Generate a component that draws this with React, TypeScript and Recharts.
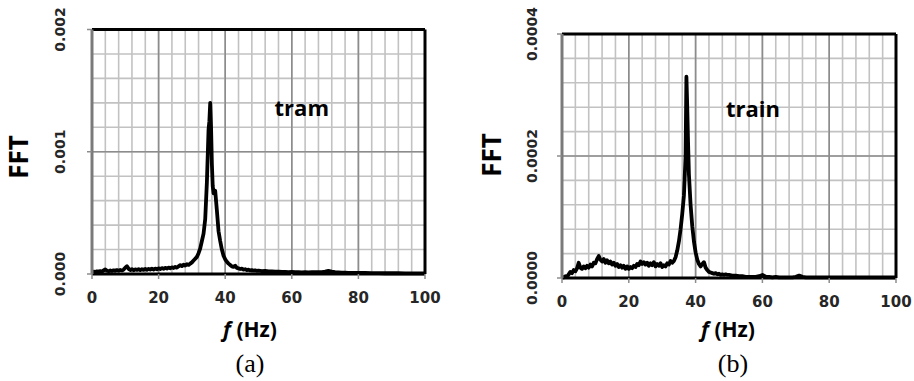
import { CartesianGrid, Line, LineChart, ReferenceDot, ReferenceLine, XAxis, YAxis } from "recharts";

// FFT magnitudes are stored in units of 1e-5, as [frequency Hz, value]
const tramSpectrum: [number, number][] = [
  [0, 1.2], [0.5, 2.0], [1, 1.6], [1.5, 2.2], [2, 1.8], [2.5, 2.4], [3, 2.0], [3.5, 2.9], [4, 3.8], [4.5, 2.7],
  [5, 2.3], [5.5, 2.9], [6, 2.4], [6.5, 3.0], [7, 2.6], [7.5, 3.2], [8, 2.7], [8.5, 3.3], [9, 2.9], [9.5, 3.6],
  [10, 5.2], [10.5, 6.4], [11, 4.2], [11.5, 3.2], [12, 3.9], [12.5, 3.1], [13, 3.8], [13.5, 3.3], [14, 4.0], [14.5, 3.2],
  [15, 3.9], [15.5, 3.4], [16, 4.1], [16.5, 3.5], [17, 4.2], [17.5, 3.6], [18, 4.3], [18.5, 3.7], [19, 4.4], [19.5, 3.9],
  [20, 4.6], [20.5, 4.1], [21, 4.8], [21.5, 4.3], [22, 5.0], [22.5, 4.5], [23, 5.2], [23.5, 4.7], [24, 5.4], [24.5, 4.9],
  [25, 5.8], [25.5, 5.2], [26, 6.3], [26.5, 7.2], [27, 6.4], [27.5, 7.6], [28, 6.9], [28.5, 8.0], [29, 7.4], [29.5, 8.5],
  [30, 9.5], [30.5, 11], [31, 12.5], [31.5, 14], [32, 17], [32.5, 21], [33, 27], [33.5, 33], [34, 45], [34.5, 75],
  [35, 118], [35.25, 125], [35.5, 140], [35.75, 120], [36, 90], [36.25, 72], [36.5, 66], [37, 68], [37.5, 52], [38, 35],
  [38.5, 27], [39, 20], [39.5, 15], [40, 12], [40.5, 10], [41, 8.5], [41.5, 7.4], [42, 6.2], [42.5, 5.8], [43, 6.8],
  [43.5, 5.0], [44, 4.6], [44.5, 4.1], [45, 4.4], [45.5, 3.6], [46, 3.9], [46.5, 3.2], [47, 3.5], [47.5, 2.9], [48, 3.2],
  [48.5, 2.7], [49, 3.0], [49.5, 2.5], [50, 2.8], [51, 2.3], [52, 2.5], [53, 2.1], [54, 2.2], [55, 1.9], [56, 2.0],
  [57, 1.7], [58, 1.8], [59, 1.6], [60, 1.7], [61, 1.5], [62, 1.6], [63, 1.4], [64, 1.5], [65, 1.4], [66, 1.5],
  [67, 1.5], [68, 1.6], [69, 1.6], [70, 1.9], [71, 2.5], [72, 2.0], [73, 1.6], [74, 1.4], [75, 1.2], [76, 1.1],
  [77, 1.0], [78, 0.9], [80, 0.8], [82, 0.8], [84, 0.7], [86, 0.7], [88, 0.6], [90, 0.6], [92, 0.6], [94, 0.5],
  [96, 0.5], [98, 0.5], [100, 0.5],
];

const trainSpectrum: [number, number][] = [
  [0, 0.2], [0.5, 0.1], [1, 0.3], [1.5, 0.2], [2, 0.6], [2.5, 1.0], [3, 0.8], [3.5, 1.3], [4, 1.1], [4.5, 1.6],
  [5, 2.5], [5.5, 1.7], [6, 1.5], [6.5, 1.9], [7, 1.6], [7.5, 2.0], [8, 1.7], [8.5, 2.2], [9, 1.9], [9.5, 2.5],
  [10, 2.4], [10.5, 3.1], [11, 3.6], [11.5, 3.0], [12, 2.7], [12.5, 3.1], [13, 2.5], [13.5, 2.9], [14, 2.4], [14.5, 2.7],
  [15, 2.2], [15.5, 2.5], [16, 2.0], [16.5, 2.3], [17, 1.8], [17.5, 2.1], [18, 1.7], [18.5, 2.0], [19, 1.5], [19.5, 1.9],
  [20, 1.5], [20.5, 1.8], [21, 1.6], [21.5, 2.0], [22, 1.8], [22.5, 2.3], [23, 2.1], [23.5, 2.7], [24, 2.3], [24.5, 2.6],
  [25, 2.2], [25.5, 2.5], [26, 2.0], [26.5, 2.4], [27, 2.1], [27.5, 2.6], [28, 1.9], [28.5, 2.3], [29, 2.0], [29.5, 2.4],
  [30, 1.8], [30.5, 2.1], [31, 1.9], [31.5, 2.4], [32, 2.2], [32.5, 2.8], [33, 2.5], [33.5, 2.8], [34, 3.4], [34.5, 4.5],
  [35, 6.0], [35.5, 8.0], [36, 10.5], [36.5, 13.5], [37, 20], [37.25, 33], [37.5, 28], [37.75, 22], [38, 17], [38.5, 12],
  [39, 8.5], [39.5, 6.0], [40, 4.2], [40.5, 3.0], [41, 2.3], [41.5, 1.9], [42, 2.3], [42.5, 2.6], [43, 1.7], [43.5, 1.3],
  [44, 1.0], [44.5, 0.9], [45, 0.8], [45.5, 0.7], [46, 0.8], [46.5, 0.6], [47, 0.7], [47.5, 0.5], [48, 0.6], [48.5, 0.5],
  [49, 0.6], [49.5, 0.5], [50, 0.5], [51, 0.4], [52, 0.4], [53, 0.3], [54, 0.3], [55, 0.2], [56, 0.2], [57, 0.2],
  [58, 0.2], [59, 0.3], [60, 0.5], [61, 0.2], [62, 0.2], [63, 0.1], [64, 0.2], [65, 0.1], [66, 0.1], [67, 0.1],
  [68, 0.1], [69, 0.1], [70, 0.2], [71, 0.4], [72, 0.2], [73, 0.1], [74, 0.1], [76, 0.1], [78, 0.1], [80, 0.1],
  [84, 0.1], [88, 0.1], [92, 0.1], [96, 0.1], [100, 0.1],
];

// x grid every 4 Hz, labels every 20 Hz
const freqTicks = [0, 4, 8, 12, 16, 20, 24, 28, 32, 36, 40, 44, 48, 52, 56, 60, 64, 68, 72, 76, 80, 84, 88, 92, 96, 100];
const freqLabels = [0, 20, 40, 60, 80, 100];

const tramYTicks = [0, 20, 40, 60, 80, 100, 120, 140, 160, 180, 200];
const tramYLabels: Record<number, string> = { 0: "0.000", 100: "0.001", 200: "0.002" };
const trainYTicks = [0, 4, 8, 12, 16, 20, 24, 28, 32, 36, 40];
const trainYLabels: Record<number, string> = { 0: "0.0000", 20: "0.0002", 40: "0.0004" };

const W = 457;
const H = 381;
const Y_W = 60;
const X_H = 30;
const TICK_FONT = "'DejaVu Sans', sans-serif";
const LABEL_FONT = "'Open Sans', 'DejaVu Sans', sans-serif";
const MINOR = "#c2c2c2";
const MAJOR = "#8c8c8c";

interface PanelProps {
  left: number;
  spectrum: [number, number][];
  yMax: number;
  yTicks: number[];
  yLabels: Record<number, string>;
  yMajors: number[];
  name: string;
  nameAt: [number, number];
  caption: string;
  plot: { left: number; top: number; width: number; height: number };
  yLabelGap: number;
  fftAt: [number, number];
  xTitleX: number;
  captionX: number;
}

function Panel(p: PanelProps) {
  const data = p.spectrum.map(([f, v]) => ({ f, v }));
  const margin = {
    top: p.plot.top,
    left: p.plot.left - Y_W,
    right: W - p.plot.left - p.plot.width,
    bottom: H - p.plot.top - p.plot.height - X_H,
  };
  return (
    <div style={{ position: "absolute", left: p.left, top: 0, width: W, height: H }}>
      <LineChart width={W} height={H} data={data} margin={margin}>
        <CartesianGrid stroke={MINOR} strokeWidth={1.6} />
        <XAxis
          dataKey="f"
          type="number"
          domain={[0, 100]}
          ticks={freqTicks}
          interval={0}
          height={X_H}
          tickSize={0}
          tickMargin={0}
          axisLine={{ stroke: "#000", strokeWidth: 3 }}
          tick={(t: any) => {
            const v = t.payload.value;
            if (!freqLabels.includes(v)) return <g />;
            return (
              <g>
                <line x1={t.x} x2={t.x} y1={t.y} y2={t.y + 5} stroke={MAJOR} strokeWidth={1.5} />
                <text
                  x={t.x}
                  y={t.y + 24}
                  textAnchor="middle"
                  dominantBaseline="central"
                  fontFamily={TICK_FONT}
                  fontWeight={700}
                  fontSize={15}
                  fill="#262626"
                >
                  {v}
                </text>
              </g>
            );
          }}
        />
        <YAxis
          type="number"
          domain={[0, p.yMax]}
          ticks={p.yTicks}
          interval={0}
          width={Y_W}
          tickSize={0}
          tickMargin={0}
          axisLine={{ stroke: "#7a7a7a", strokeWidth: 3 }}
          tick={(t: any) => {
            const lab = p.yLabels[t.payload.value];
            if (lab === undefined) return <g />;
            const tx = t.x - p.yLabelGap;
            return (
              <g>
                <line x1={t.x - 5} x2={t.x} y1={t.y} y2={t.y} stroke={MAJOR} strokeWidth={1.5} />
                <text
                  x={tx}
                  y={t.y}
                  transform={`rotate(-90 ${tx} ${t.y})`}
                  textAnchor="middle"
                  dominantBaseline="central"
                  fontFamily={TICK_FONT}
                  fontWeight={700}
                  fontSize={14}
                  fill="#262626"
                >
                  {lab}
                </text>
              </g>
            );
          }}
        />
        {freqLabels.slice(1, -1).map((f) => (
          <ReferenceLine key={`vx${f}`} x={f} stroke={MAJOR} strokeWidth={1.6} />
        ))}
        {p.yMajors.map((y) => (
          <ReferenceLine key={`hy${y}`} y={y} stroke={MAJOR} strokeWidth={1.6} />
        ))}
        <Line
          dataKey="v"
          type="linear"
          stroke="#000"
          strokeWidth={3.8}
          strokeLinejoin="round"
          dot={false}
          isAnimationActive={false}
        />
        <ReferenceLine y={p.yMax} stroke="#000" strokeWidth={3} />
        <ReferenceLine x={100} stroke="#000" strokeWidth={3} />
        <ReferenceDot
          x={p.nameAt[0]}
          y={p.nameAt[1]}
          r={1}
          fill="none"
          stroke="none"
          label={{
            value: p.name,
            position: "center",
            fill: "#000",
            fontSize: 22,
            fontWeight: 700,
            fontFamily: LABEL_FONT,
          }}
        />
      </LineChart>
      <svg
        width={W}
        height={H}
        style={{ position: "absolute", left: 0, top: 0, pointerEvents: "none" }}
      >
        <text
          x={p.fftAt[0]}
          y={p.fftAt[1]}
          transform={`rotate(-90 ${p.fftAt[0]} ${p.fftAt[1]})`}
          textAnchor="middle"
          dominantBaseline="central"
          fontFamily={LABEL_FONT}
          fontWeight={700}
          fontSize={26}
          fill="#000"
        >
          FFT
        </text>
        <text
          x={p.xTitleX}
          y={337}
          textAnchor="middle"
          fontFamily={LABEL_FONT}
          fontWeight={700}
          fontSize={21}
          fill="#000"
        >
          <tspan fontStyle="italic">f</tspan> (Hz)
        </text>
        <text
          x={p.captionX}
          y={372}
          textAnchor="middle"
          fontFamily="'Liberation Serif', 'Times New Roman', serif"
          fontSize={26}
          fill="#000"
        >
          {p.caption}
        </text>
      </svg>
    </div>
  );
}

export default function App() {
  return (
    <div style={{ position: "absolute", left: 0, top: 0, width: 914, height: 381, background: "#fff" }}>
      <Panel
        left={0}
        spectrum={tramSpectrum}
        yMax={200}
        yTicks={tramYTicks}
        yLabels={tramYLabels}
        yMajors={[100]}
        name="tram"
        nameAt={[63, 136]}
        caption="(a)"
        plot={{ left: 92, top: 29.5, width: 333, height: 244.5 }}
        yLabelGap={32}
        fftAt={[18, 157]}
        xTitleX={250}
        captionX={250}
      />
      <Panel
        left={457}
        spectrum={trainSpectrum}
        yMax={40}
        yTicks={trainYTicks}
        yLabels={trainYLabels}
        yMajors={[20]}
        name="train"
        nameAt={[57.2, 27.7]}
        caption="(b)"
        plot={{ left: 105, top: 34, width: 334, height: 244 }}
        yLabelGap={30}
        fftAt={[34, 155]}
        xTitleX={271}
        captionX={276}
      />
    </div>
  );
}
